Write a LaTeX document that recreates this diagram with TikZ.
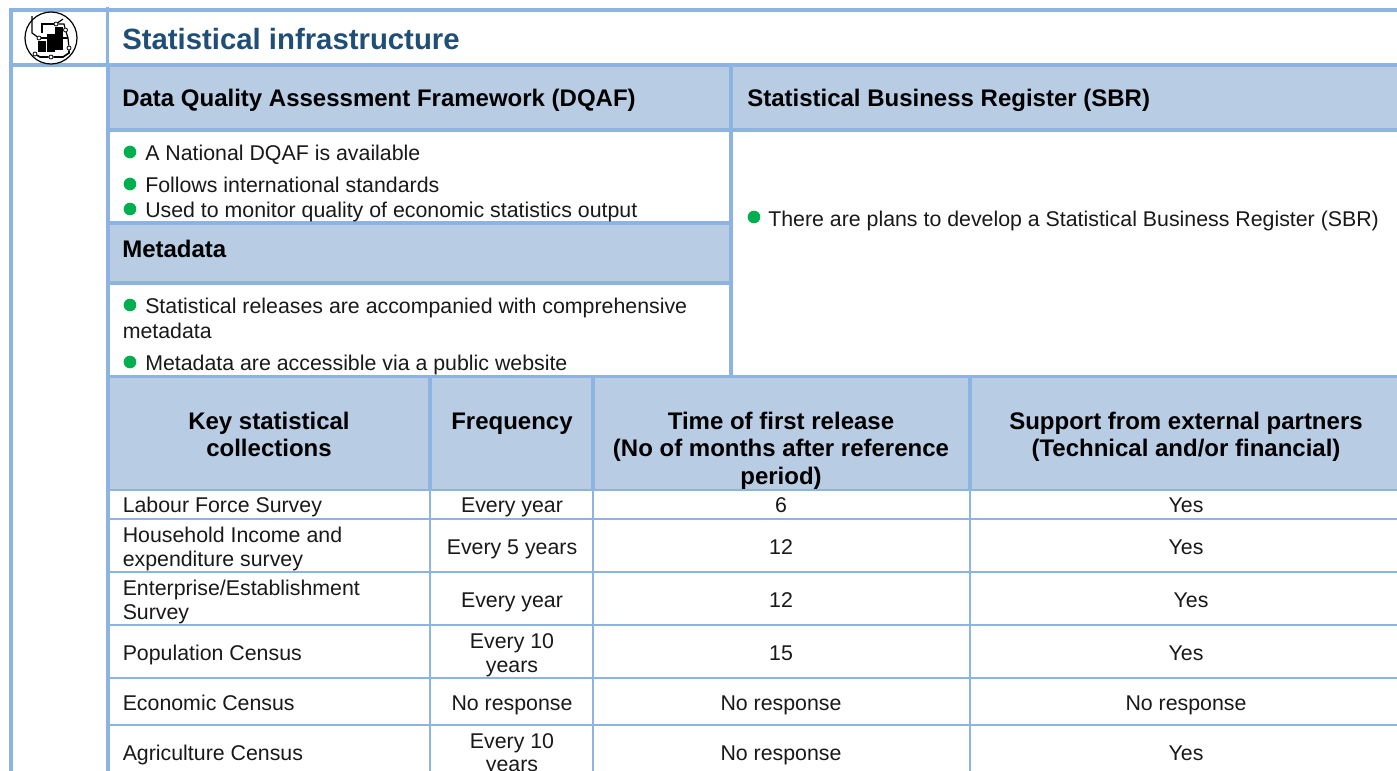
\documentclass[tikz,border=0pt]{standalone}
\usepackage{fontspec}
\setmainfont{Liberation Sans}
\definecolor{rulec}{HTML}{8DB3E2}
\definecolor{headc}{HTML}{B8CCE4}
\definecolor{titlec}{HTML}{1F4E79}
\definecolor{bulc}{HTML}{00B050}
\tikzset{
  x=0.75pt,y=-0.75pt,
  body/.style={inner sep=0pt,font=\fontsize{16}{18}\selectfont,text=black!90,anchor=base west},
  bodyc/.style={body,anchor=base},
  hd/.style={inner sep=0pt,font=\fontsize{18}{20}\bfseries\selectfont,text=black,anchor=base west},
  hdc/.style={hd,anchor=base},
  ttl/.style={inner sep=0pt,font=\fontsize{22}{24}\bfseries\selectfont,text=titlec,anchor=base west},
  bul/.style={circle,fill=bulc,inner sep=0pt,minimum size=9.5pt},
  thick rule/.style={draw=rulec,line width=2.8pt},
  thin rule/.style={draw=rulec,line width=1.4pt},
  wire/.style={draw=black,line width=0.9pt},
  pad/.style={circle,draw=black,fill=white,line width=0.6pt,inner sep=0pt,minimum size=3pt},
}
\begin{document}
\begin{tikzpicture}
\useasboundingbox (0,0) rectangle (1397,771);
\clip (0,0) rectangle (1397,771);
\fill[white] (0,0) rectangle (1397,771);
% header fills
\fill[headc] (108,67) rectangle (731,130);
\fill[headc] (731,67) rectangle (1397,130);
\fill[headc] (108,223) rectangle (731,283);
\fill[headc] (108,377) rectangle (1397,490);
% thick rules
\draw[thick rule] (10.75,8) -- (10.75,771);
\draw[thick rule] (107.5,7) -- (107.5,67);
\draw[thick rule] (108,65) -- (108,771);
\draw[thick rule] (9,10) -- (1397,10);
\draw[thick rule] (9,65) -- (1397,65);
\draw[thick rule] (107,130) -- (1397,130);
\draw[thick rule] (731,65) -- (731,378);
\draw[thick rule] (107,223) -- (731,223);
\draw[thick rule] (107,283) -- (731,283);
\draw[thick rule] (107,376.5) -- (1397,376.5);
\draw[thick rule] (430,376) -- (430,490);
\draw[thick rule] (593,376) -- (593,490);
\draw[thick rule] (970,376) -- (970,490);
% thin rules
\foreach \yy in {490,519,572,625,678,725} \draw[thin rule] (107,\yy) -- (1397,\yy);
\draw[thin rule] (430,490) -- (430,771);
\draw[thin rule] (593,490) -- (593,771);
\draw[thin rule] (970,490) -- (970,771);
% icon
\draw[black,line width=0.9pt,fill=white] (51,38) circle (26);
\fill[black] (38,41) rectangle (46,52);
\fill[black] (47,34) rectangle (55,52);
\fill[black] (55,27) rectangle (63,50);
\node[pad] (p1) at (56,24) {};
\node[pad] (p2) at (65.5,30) {};
\node[pad] (p3) at (39,38) {};
\node[pad] (p4) at (69,48) {};
\node[pad] (p5) at (51,57) {};
\node[pad] (p6) at (35,54) {};
\coordinate (w1) at (32,16);
\coordinate (w2) at (42,33);
\coordinate (w3) at (63,38);
\coordinate (w4) at (63,19);
\draw[wire] (w1) -- (32,33) -- (p3);
\draw[wire] (p3) -- (47,38);
\draw[wire] (w2) -- (42,24) -- (p1);
\draw[wire] (p1) -- (64,24) -- (p2);
\draw[wire] (p1) -- (w4);
\draw[wire] (p2) -- (68,38) -- (p4);
\draw[wire] (w3) -- (68,38);
\draw[wire,line width=1.2pt] (p4) -- (69,53) -- (63,57) -- (p5);
\draw[wire,line width=1.2pt] (p5) -- (40,57) -- (p6);
% title
\node[ttl] (title) at (122,49) {Statistical infrastructure};
\node[hd] (dqaf) at (122,106) {Data Quality Assessment Framework (DQAF)};
\node[hd] (sbr) at (747,106) {Statistical Business Register (SBR)};
\node[hd] (meta) at (122,257) {Metadata};
% bullets
\node[bul] (b1) at (130,152) {};
\node[body] (t1) at (145,160) {A National DQAF is available};
\node[bul] (b2) at (130,184) {};
\node[body] (t2) at (145,192) {Follows international standards};
\node[bul] (b3) at (130,209) {};
\node[body] (t3) at (145,217) {Used to monitor quality of economic statistics output};
\node[bul] (b4) at (130,305) {};
\node[body] (t4) at (145,313) {Statistical releases are accompanied with comprehensive};
\node[body] (t4b) at (122.5,338) {metadata};
\node[bul] (b5) at (130,362) {};
\node[body] (t5) at (145,370) {Metadata are accessible via a public website};
\node[bul] (b6) at (754,217) {};
\node[body] (t6) at (768,226) {There are plans to develop a Statistical Business Register (SBR)};
% table head
\node[hdc] (h1a) at (269,429) {Key statistical};
\node[hdc] (h1b) at (269,456) {collections};
\node[hdc] (h2) at (512,429) {Frequency};
\node[hdc] (h3a) at (781,429) {Time of first release};
\node[hdc] (h3b) at (781,456) {(No of months after reference};
\node[hdc] (h3c) at (781,484) {period)};
\node[hdc] (h4a) at (1186,429) {Support from external partners};
\node[hdc] (h4b) at (1186,456) {(Technical and/or financial)};
% rows
\node[body] (r1) at (122.5,512) {Labour Force Survey};
\node[bodyc] (r1f) at (512,512) {Every year};
\node[bodyc] (r1t) at (781,512) {6};
\node[bodyc] (r1s) at (1186,512) {Yes};
\node[body] (r2a) at (122.5,542) {Household Income and};
\node[body] (r2b) at (122.5,566) {expenditure survey};
\node[bodyc] (r2f) at (512,554) {Every 5 years};
\node[bodyc] (r2t) at (781,554) {12};
\node[bodyc] (r2s) at (1186,554) {Yes};
\node[body] (r3a) at (122.5,595) {Enterprise/Establishment};
\node[body] (r3b) at (122.5,619) {Survey};
\node[bodyc] (r3f) at (512,607) {Every year};
\node[bodyc] (r3t) at (781,607) {12};
\node[bodyc] (r3s) at (1191,607) {Yes};
\node[body] (r4) at (122.5,660) {Population Census};
\node[bodyc] (r4fa) at (512,648) {Every 10};
\node[bodyc] (r4fb) at (512,672) {years};
\node[bodyc] (r4t) at (781,660) {15};
\node[bodyc] (r4s) at (1186,660) {Yes};
\node[body] (r5) at (122.5,710) {Economic Census};
\node[bodyc] (r5f) at (512,710) {No response};
\node[bodyc] (r5t) at (781,710) {No response};
\node[bodyc] (r5s) at (1186,710) {No response};
\node[body] (r6) at (122.5,760) {Agriculture Census};
\node[bodyc] (r6fa) at (512,748) {Every 10};
\node[bodyc] (r6fb) at (512,771) {years};
\node[bodyc] (r6t) at (781,760) {No response};
\node[bodyc] (r6s) at (1186,760) {Yes};
\end{tikzpicture}
\end{document}
